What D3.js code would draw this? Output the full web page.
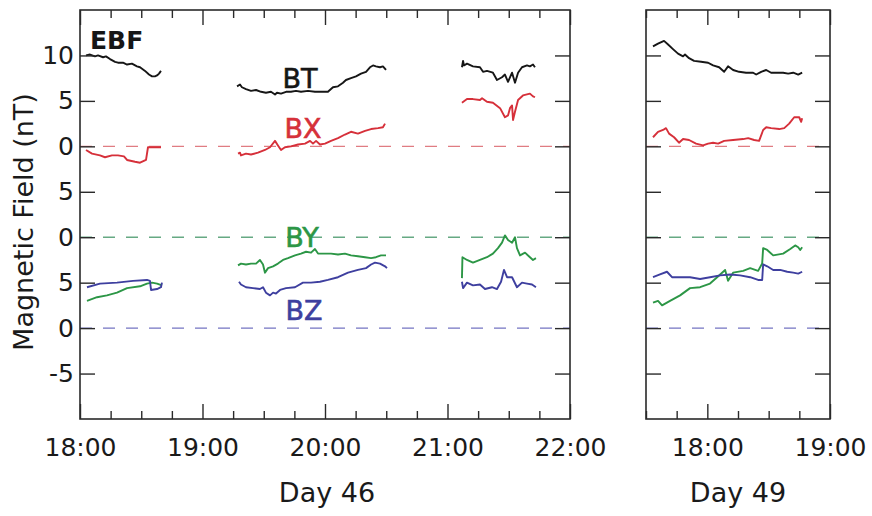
<!DOCTYPE html>
<html>
<head>
<meta charset="utf-8">
<script src="https://cdn.jsdelivr.net/npm/d3@7"></script>
<style>
  body { margin: 0; background: #fff; }
  svg { display: block; }
  text { font-family: "DejaVu Sans", "Liberation Sans", sans-serif; }
</style>
</head>
<body>
<svg id="chart" width="872" height="516"></svg>
<script>
// EBF magnetometer components (nT) against UT in decimal hours.
// A null entry separates the individual data intervals of a trace.

const day46BT = [
  [18.049,10.0],[18.082,10.1],[18.122,9.9],[18.147,10.0],[18.188,9.8],[18.212,9.9],[18.245,9.6],
  [18.286,9.3],[18.310,9.2],[18.351,9.2],[18.384,9.0],[18.424,9.1],[18.465,8.8],[18.490,8.7],
  [18.531,8.3],[18.563,7.9],[18.588,7.7],[18.612,7.7],[18.629,7.8],[18.645,8.0],[18.661,8.3],
  null,
  [19.282,6.6],[19.306,6.8],[19.322,6.5],[19.355,6.3],[19.396,6.1],[19.437,6.2],[19.478,6.0],
  [19.518,5.9],[19.559,6.0],[19.592,5.7],[19.608,5.9],[19.641,5.8],[19.682,6.0],[19.722,6.0],
  [19.763,6.1],[19.804,6.0],[19.861,6.1],[19.918,6.0],[19.967,6.0],[20.024,6.0],[20.065,6.5],
  [20.106,6.6],[20.147,7.0],[20.171,7.3],[20.212,7.5],[20.253,7.7],[20.294,8.0],[20.335,8.2],
  [20.367,8.7],[20.392,8.9],[20.416,8.8],[20.449,8.7],[20.473,8.8],[20.498,8.4],
  null,
  [21.118,8.7],[21.127,9.4],[21.135,8.9],[21.159,9.1],[21.208,8.8],[21.265,8.7],[21.290,8.2],
  [21.322,8.3],[21.371,8.1],[21.404,7.3],[21.445,7.6],[21.469,7.9],[21.494,7.1],[21.527,8.1],
  [21.551,7.0],[21.576,8.1],[21.608,8.7],[21.649,8.9],[21.673,8.8],[21.698,9.0],[21.714,8.7]
];

const day46BX = [
  [18.049,-0.4],[18.098,-0.8],[18.163,-1.0],[18.204,-1.2],[18.261,-1.0],[18.310,-1.0],[18.359,-1.1],
  [18.384,-1.5],[18.449,-1.7],[18.490,-1.8],[18.539,-1.5],[18.555,-0.1],[18.596,-0.1],[18.661,-0.1],
  null,
  [19.290,-0.8],[19.306,-0.7],[19.314,-1.0],[19.355,-0.8],[19.396,-0.9],[19.453,-0.7],[19.510,-0.4],
  [19.551,-0.1],[19.592,0.6],[19.616,0.1],[19.641,-0.4],[19.673,-0.1],[19.722,0.0],[19.780,0.2],
  [19.837,0.3],[19.878,0.6],[19.902,0.3],[19.927,0.6],[19.959,0.2],[20.000,0.3],[20.049,0.6],
  [20.106,0.9],[20.163,1.3],[20.212,1.6],[20.269,1.4],[20.327,1.7],[20.376,1.9],[20.433,2.0],
  [20.473,2.1],[20.490,2.5],
  null,
  [21.118,4.8],[21.159,5.2],[21.208,5.2],[21.265,5.1],[21.282,5.3],[21.322,4.9],[21.371,4.8],
  [21.429,4.2],[21.469,3.2],[21.494,3.4],[21.510,4.2],[21.527,4.5],[21.535,2.9],[21.551,3.8],
  [21.576,5.1],[21.616,5.6],[21.673,5.8],[21.698,5.5],[21.714,5.4]
];

const day46BY = [
  [18.057,-7.0],[18.139,-6.6],[18.220,-6.4],[18.302,-6.1],[18.384,-5.6],[18.490,-5.4],[18.547,-5.1],
  [18.588,-5.0],[18.629,-5.1],[18.669,-5.3],
  null,
  [19.290,-3.1],[19.314,-2.9],[19.355,-3.0],[19.396,-2.9],[19.437,-2.9],[19.469,-2.5],[19.494,-3.0],
  [19.510,-3.9],[19.535,-3.4],[19.576,-3.2],[19.616,-2.9],[19.657,-2.5],[19.698,-2.3],[19.755,-2.0],
  [19.804,-1.8],[19.845,-1.6],[19.886,-1.7],[19.918,-1.3],[19.943,-1.8],[20.000,-1.8],[20.049,-1.8],
  [20.106,-1.9],[20.163,-1.8],[20.212,-2.0],[20.269,-2.1],[20.327,-2.2],[20.376,-2.3],[20.416,-2.2],
  [20.457,-2.0],[20.498,-2.0],
  null,
  [21.118,-4.5],[21.122,-2.2],[21.159,-2.5],[21.208,-2.8],[21.265,-2.5],[21.322,-2.2],[21.371,-1.8],
  [21.412,-1.2],[21.445,-0.6],[21.469,0.2],[21.494,-0.3],[21.527,-0.6],[21.551,0.0],[21.567,-1.2],
  [21.592,-2.0],[21.633,-1.7],[21.673,-2.2],[21.698,-2.5],[21.722,-2.3]
];

const day46BZ = [
  [18.057,4.5],[18.163,4.9],[18.302,5.0],[18.433,5.2],[18.547,5.3],[18.571,5.2],[18.580,4.2],
  [18.629,4.3],[18.661,4.5],[18.669,5.0],
  null,
  [19.298,5.1],[19.314,4.8],[19.355,4.5],[19.412,4.4],[19.469,4.3],[19.494,4.5],[19.518,3.9],
  [19.551,3.6],[19.576,3.9],[19.600,3.8],[19.633,4.2],[19.682,4.4],[19.755,4.5],[19.820,5.0],
  [19.886,5.0],[19.959,5.1],[20.024,5.3],[20.106,5.6],[20.188,6.1],[20.269,6.4],[20.335,6.6],
  [20.376,7.0],[20.408,7.2],[20.449,7.1],[20.490,6.8],[20.506,6.6],
  null,
  [21.118,5.1],[21.127,4.4],[21.159,5.0],[21.208,4.7],[21.265,4.8],[21.306,4.3],[21.363,4.5],
  [21.404,4.3],[21.437,5.1],[21.461,6.4],[21.486,5.6],[21.527,5.6],[21.567,4.5],[21.608,5.0],
  [21.649,4.9],[21.690,4.8],[21.722,4.5]
];

const day49BT = [
  [17.557,11.0],[17.598,11.3],[17.647,11.6],[17.680,11.2],[17.720,10.7],[17.761,10.2],[17.802,9.9],
  [17.818,10.1],[17.851,9.7],[17.892,9.4],[17.949,9.3],[18.006,9.2],[18.047,8.9],[18.096,8.7],
  [18.137,8.2],[18.169,8.8],[18.210,8.4],[18.259,8.2],[18.316,8.1],[18.373,8.1],[18.398,7.9],
  [18.439,8.2],[18.480,8.4],[18.520,8.1],[18.578,8.1],[18.618,8.1],[18.659,8.0],[18.700,8.1],
  [18.741,7.9],[18.773,8.1]
];

const day49BX = [
  [17.557,1.0],[17.598,1.6],[17.639,1.8],[17.663,2.0],[17.688,1.4],[17.729,1.0],[17.769,0.4],
  [17.802,0.8],[17.851,0.7],[17.908,0.3],[17.965,0.1],[18.006,0.3],[18.047,0.4],[18.088,0.3],
  [18.137,0.6],[18.210,0.7],[18.292,0.8],[18.333,0.9],[18.382,0.7],[18.422,0.6],[18.455,1.8],
  [18.480,2.1],[18.520,2.0],[18.586,1.9],[18.627,2.0],[18.667,2.5],[18.708,3.2],[18.749,3.2],
  [18.765,2.7],[18.773,3.1]
];

const day49BY = [
  [17.557,-7.2],[17.598,-7.0],[17.631,-7.5],[17.696,-7.0],[17.778,-6.4],[17.859,-5.6],[17.941,-5.5],
  [18.022,-5.1],[18.080,-4.4],[18.145,-3.6],[18.169,-4.8],[18.210,-3.9],[18.292,-3.7],[18.349,-3.4],
  [18.414,-3.7],[18.447,-2.9],[18.455,-1.2],[18.488,-1.4],[18.537,-2.0],[18.618,-1.8],[18.676,-1.3],
  [18.716,-0.9],[18.741,-1.1],[18.757,-1.4],[18.773,-1.1]
];

const day49BZ = [
  [17.557,5.6],[17.614,5.9],[17.671,6.2],[17.712,5.6],[17.778,5.6],[17.859,5.6],[17.941,5.4],
  [18.022,5.6],[18.104,5.8],[18.186,5.9],[18.267,5.8],[18.349,5.6],[18.414,5.3],[18.447,5.3],
  [18.455,7.0],[18.488,6.8],[18.537,6.4],[18.594,6.4],[18.651,6.2],[18.700,6.1],[18.741,6.0],
  [18.773,6.2]
];

// Each component is drawn on its own baseline of the shared stacked axis.
const componentNames = ["BT", "BX", "BY", "BZ"];
const componentBaselines = [20, 20, 10, 0];
const componentColors = ["#161616", "#d6303a", "#2c9646", "#3e3f9f"];
const zeroLineColors = ["#e07c82", "#66a983", "#7474c2"];
const zeroLineBaselines = [20, 10, 0];

const yTickValues = [-5, 0, 5, 10, 15, 20, 25, 30];
const yTickLabels = ["-5", "0", "5", "0", "5", "0", "5", "10"];

const day46Labels = ["18:00", "19:00", "20:00", "21:00", "22:00"];
const day49Labels = ["18:00", "19:00"];

const svg = d3.select("#chart");

const y = d3.scaleLinear().domain([-10, 35]).range([419, 10]);

const panels = [
  {
    title: "Day 46",
    titleX: 327,
    x: d3.scaleLinear().domain([18, 22]).range([80, 570]),
    series: [day46BT, day46BX, day46BY, day46BZ],
    labels: day46Labels,
    yLabels: true
  },
  {
    title: "Day 49",
    titleX: 738,
    x: d3.scaleLinear().domain([17.5, 19]).range([646, 830]),
    series: [day49BT, day49BX, day49BY, day49BZ],
    labels: day49Labels,
    yLabels: false
  }
];

const hourOf = s => +s.split(":")[0] + (+s.split(":")[1]) / 60;

panels.forEach(p => {
  const [x0, x1] = p.x.range();
  const g = svg.append("g");

  // dashed zero references for BX, BY and BZ
  g.selectAll("line.zero")
    .data(zeroLineBaselines)
    .join("line")
    .attr("class", "zero")
    .attr("x1", x0).attr("x2", x1)
    .attr("y1", d => y(d)).attr("y2", d => y(d))
    .attr("stroke", (d, i) => zeroLineColors[i])
    .attr("stroke-width", 1.4)
    .attr("stroke-dasharray", "12 11");

  // traces
  p.series.forEach((data, i) => {
    const base = componentBaselines[i];
    const line = d3.line()
      .defined(d => d !== null)
      .x(d => p.x(d[0]))
      .y(d => y(d[1] + base));
    g.append("path")
      .datum(data)
      .attr("d", line)
      .attr("fill", "none")
      .attr("stroke", componentColors[i])
      .attr("stroke-width", 1.9)
      .attr("stroke-linejoin", "round");
  });

  // quarter-hour ticks along the top and bottom, longer at the hours
  const [d0, d1] = p.x.domain();
  const quarters = d3.range(Math.round(d0 * 4), Math.round(d1 * 4) + 1).map(q => q / 4);
  const labelHours = p.labels.map(hourOf);
  const isHour = v => Math.abs(v - Math.round(v)) < 1e-6;

  const bottom = d3.axisBottom(p.x)
    .tickValues(quarters)
    .tickSizeInner(-15).tickSizeOuter(0).tickPadding(19)
    .tickFormat(v => {
      const k = labelHours.findIndex(h => Math.abs(h - v) < 1e-6);
      return k >= 0 ? p.labels[k] : "";
    });
  const gb = g.append("g").attr("transform", `translate(0,${y.range()[0]})`).call(bottom);
  gb.selectAll(".tick line").attr("y2", v => isHour(v) ? -15 : -8);

  const top = d3.axisTop(p.x)
    .tickValues(quarters)
    .tickSizeInner(-15).tickSizeOuter(0)
    .tickFormat("");
  const gt = g.append("g").attr("transform", `translate(0,${y.range()[1]})`).call(top);
  gt.selectAll(".tick line").attr("y2", v => isHour(v) ? 15 : 8);

  const left = d3.axisLeft(y)
    .tickValues(yTickValues)
    .tickSizeInner(-15).tickSizeOuter(0).tickPadding(6)
    .tickFormat((v, i) => p.yLabels ? yTickLabels[i] : "");
  g.append("g").attr("transform", `translate(${x0},0)`).call(left);

  const right = d3.axisRight(y)
    .tickValues(yTickValues)
    .tickSizeInner(-15).tickSizeOuter(0)
    .tickFormat("");
  g.append("g").attr("transform", `translate(${x1},0)`).call(right);

  g.selectAll(".domain").remove();
  g.selectAll(".tick line").attr("stroke", "#2a2a2a").attr("stroke-width", 1.4);
  g.selectAll(".tick text")
    .attr("fill", "#1a1a1a")
    .style("font-family", '"DejaVu Sans", sans-serif')
    .style("font-size", "25px");

  // panel frame
  g.append("rect")
    .attr("x", x0).attr("y", y.range()[1])
    .attr("width", x1 - x0).attr("height", y.range()[0] - y.range()[1])
    .attr("fill", "none")
    .attr("stroke", "#2a2a2a")
    .attr("stroke-width", 1.6);

  g.append("text")
    .attr("x", p.titleX)
    .attr("y", 502)
    .attr("text-anchor", "middle")
    .attr("fill", "#1a1a1a")
    .style("font-size", "27px")
    .text(p.title);
});

// instrument and component labels
svg.append("text")
  .attr("x", 90).attr("y", 49)
  .attr("fill", "#161616")
  .style("font-size", "25px").style("font-weight", "bold")
  .text("EBF");

const componentLabelPos = [[300, 88], [303, 138], [302, 247], [304, 320]];
svg.selectAll("text.comp")
  .data(componentNames)
  .join("text")
  .attr("class", "comp")
  .attr("x", (d, i) => componentLabelPos[i][0])
  .attr("y", (d, i) => componentLabelPos[i][1])
  .attr("text-anchor", "middle")
  .attr("fill", (d, i) => componentColors[i])
  .attr("stroke", (d, i) => componentColors[i])
  .attr("stroke-width", 0.6)
  .style("font-size", "27px")
  .text(d => d);

svg.append("text")
  .attr("transform", "translate(33,222) rotate(-90)")
  .attr("text-anchor", "middle")
  .attr("fill", "#1a1a1a")
  .style("font-size", "27px")
  .text("Magnetic Field (nT)");
</script>
</body>
</html>
